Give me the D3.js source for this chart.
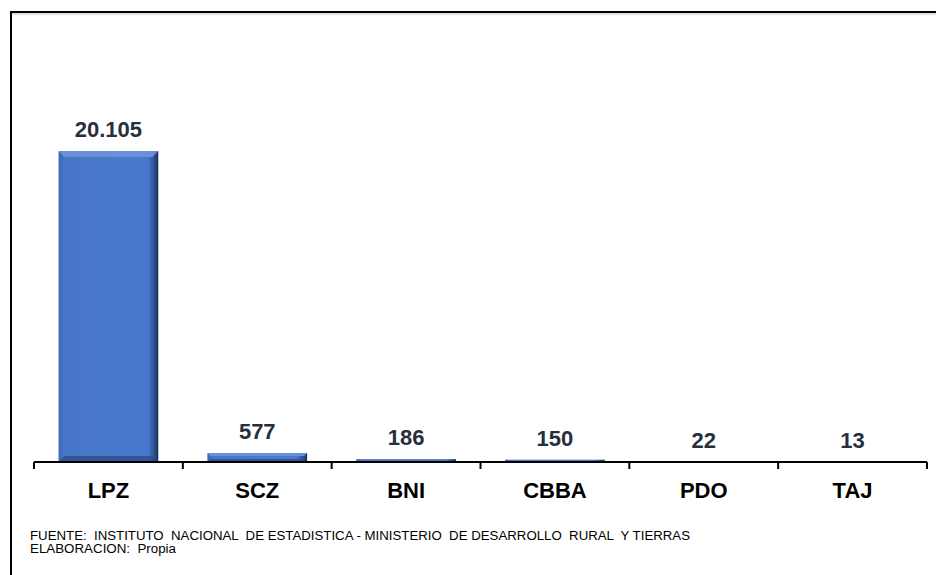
<!DOCTYPE html>
<html>
<head>
<meta charset="utf-8">
<script src="https://cdn.jsdelivr.net/npm/d3@7/dist/d3.min.js"></script>
<style>
  html, body { margin: 0; padding: 0; background: #fff; }
  svg { display: block; }
</style>
</head>
<body>
<svg id="chart" width="936" height="575"></svg>
<script>
const categories = ["LPZ", "SCZ", "BNI", "CBBA", "PDO", "TAJ"];
const values = [20105, 577, 186, 150, 22, 13];
const valueLabels = ["20.105", "577", "186", "150", "22", "13"];
const footnotes = [
  "FUENTE:  INSTITUTO  NACIONAL  DE ESTADISTICA - MINISTERIO  DE DESARROLLO  RURAL  Y TIERRAS",
  "ELABORACION:  Propia"
];

const svg = d3.select("#chart");
const W = 936, H = 575;
svg.append("rect").attr("width", W).attr("height", H).attr("fill", "#fff");

// frame
svg.append("line").attr("x1", 10).attr("x2", W).attr("y1", 14).attr("y2", 14)
  .attr("stroke", "#e2e2e2").attr("stroke-width", 2);
svg.append("line").attr("x1", 10).attr("x2", W).attr("y1", 12).attr("y2", 12)
  .attr("stroke", "#000").attr("stroke-width", 2);
svg.append("line").attr("x1", 11).attr("x2", 11).attr("y1", 11).attr("y2", H)
  .attr("stroke", "#000").attr("stroke-width", 2);

const x = d3.scaleBand().domain(categories).range([34, 927])
  .paddingInner(0.33).paddingOuter(0.165);
const y = d3.scaleLinear().domain([0, 20105]).range([462, 151]);

const defs = svg.append("defs");
const gh = defs.append("linearGradient").attr("id", "gh").attr("x1", "0").attr("x2", "1").attr("y1", "0").attr("y2", "0");
gh.append("stop").attr("offset", "0").attr("stop-color", "#3a66b0");
gh.append("stop").attr("offset", "0.06").attr("stop-color", "#4877c9");
gh.append("stop").attr("offset", "0.9").attr("stop-color", "#4878cc");
gh.append("stop").attr("offset", "0.96").attr("stop-color", "#2e5090");
gh.append("stop").attr("offset", "1").attr("stop-color", "#1b2f55");

const bars = svg.append("g");
categories.forEach((c, i) => {
  const bx = x(c), bw = x.bandwidth(), by = y(values[i]), bh = y(0) - y(values[i]);
  bars.append("rect").attr("x", bx).attr("y", by).attr("width", bw).attr("height", Math.max(bh, 1))
    .attr("fill", "url(#gh)");
  if (bh > 8) {
    const b = Math.min(6, bh / 3);
    bars.append("path")
      .attr("d", `M${bx},${by} L${bx + bw},${by} L${bx + bw - b},${by + b} L${bx + b},${by + b} Z`)
      .attr("fill", "#6d94d8").attr("opacity", 0.9);
    bars.append("path")
      .attr("d", `M${bx},${by + bh} L${bx + bw},${by + bh} L${bx + bw - b},${by + bh - b} L${bx + b},${by + bh - b} Z`)
      .attr("fill", "#2c4c88").attr("opacity", 0.8);
  }
  bars.append("text")
    .attr("x", bx + bw / 2).attr("y", by - 14)
    .attr("text-anchor", "middle")
    .attr("font-family", "'Liberation Sans', Arial, sans-serif")
    .attr("font-weight", "bold").attr("font-size", 22)
    .attr("fill", "#262f3d")
    .text(valueLabels[i]);
});

// axis
const ag = svg.append("g").attr("transform", "translate(0,462)");
ag.append("line").attr("x1", 34).attr("x2", 927).attr("y1", 0).attr("y2", 0)
  .attr("stroke", "#000").attr("stroke-width", 2);
const boundaries = categories.map(c => x(c) - x.step() * x.paddingInner() / 2);
boundaries[0] = 34;
boundaries.push(927);
boundaries.forEach(b => {
  ag.append("line").attr("x1", b).attr("x2", b).attr("y1", 0).attr("y2", 7)
    .attr("stroke", "#000").attr("stroke-width", 2);
});
categories.forEach(c => {
  ag.append("text")
    .attr("x", x(c) + x.bandwidth() / 2).attr("y", 36)
    .attr("text-anchor", "middle")
    .attr("font-family", "'Liberation Sans', Arial, sans-serif")
    .attr("font-weight", "bold").attr("font-size", 22)
    .attr("fill", "#000")
    .text(c);
});

// footnotes
svg.append("text").attr("x", 30).attr("y", 540)
  .attr("font-family", "'Liberation Sans', Arial, sans-serif").attr("font-size", 12.5)
  .attr("textLength", 660).attr("lengthAdjust", "spacingAndGlyphs")
  .attr("fill", "#000").style("white-space", "pre")
  .text(footnotes[0]);
svg.append("text").attr("x", 30).attr("y", 553)
  .attr("font-family", "'Liberation Sans', Arial, sans-serif").attr("font-size", 12.5)
  .attr("textLength", 146).attr("lengthAdjust", "spacingAndGlyphs")
  .attr("fill", "#000").style("white-space", "pre")
  .text(footnotes[1]);
</script>
</body>
</html>
